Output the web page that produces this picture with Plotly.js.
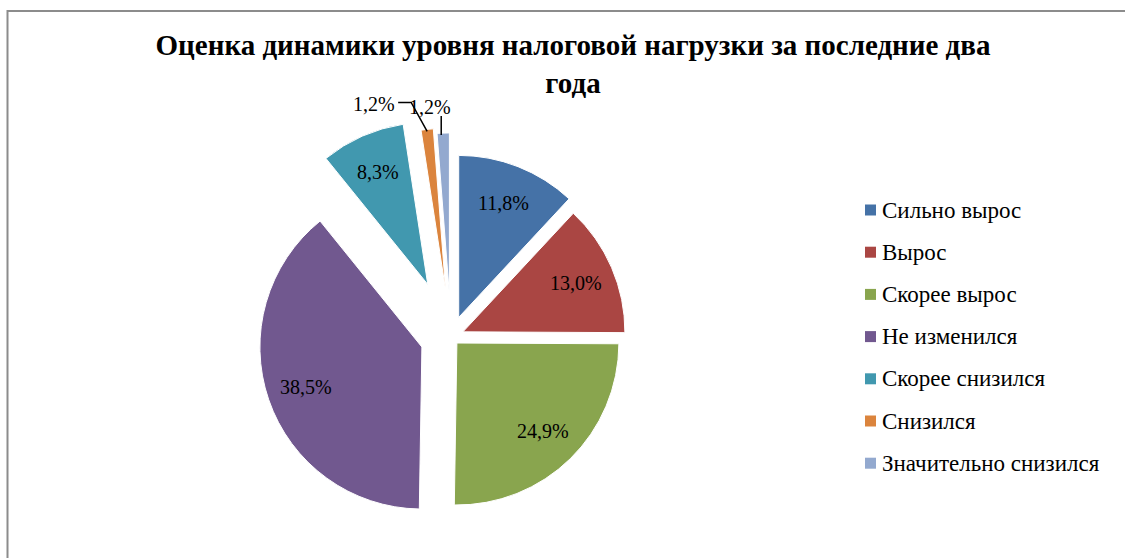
<!DOCTYPE html>
<html>
<head>
<meta charset="utf-8">
<script src="https://cdn.plot.ly/plotly-3.0.1.min.js"></script>
<style>
html,body{margin:0;padding:0;background:#fff;}
#chart{width:1125px;height:558px;}
</style>
</head>
<body>
<div id="chart"></div>
<script>
var categories = ["Сильно вырос", "Вырос", "Скорее вырос", "Не изменился", "Скорее снизился", "Снизился", "Значительно снизился"];
var shares = [11.8, 13.0, 24.9, 38.5, 8.3, 1.2, 1.2];
var colors = ["#4572A7", "#AA4643", "#89A54E", "#71588F", "#4198AF", "#DB843D", "#93A9CF"];
var titleText = "Оценка динамики уровня налоговой нагрузки за последние два<br>года";

var W = 1125, H = 558;
var FAM = "Liberation Serif";

// pie geometry (pixels)
var CX = 451, CY = 337, R = 162;
var pulls = [0.13, 0.08, 0.052, 0.19, 0.355, 0.29, 0.26];
var maxPull = Math.max.apply(null, pulls);
var half = R * (1 + maxPull);

var labelsText = shares.map(function (v) { return v.toFixed(1).replace(".", ",") + "%"; });

function toX(x) { return x / W; }
function toY(y) { return 1 - y / H; }

var trace = {
  type: "pie",
  labels: categories,
  values: shares,
  text: labelsText,
  textinfo: "none",
  hoverinfo: "label+text",
  sort: false,
  direction: "clockwise",
  rotation: 0,
  pull: pulls,
  marker: { colors: colors, line: { color: "#ffffff", width: 1 } },
  domain: { x: [(CX - half) / W, (CX + half) / W], y: [(H - CY - half) / H, (H - CY + half) / H] },
  showlegend: false
};

var shapes = [{
  type: "rect", xref: "paper", yref: "paper",
  x0: toX(7.5), x1: 1.02, y0: -0.05, y1: toY(11),
  line: { color: "#8c8c8c", width: 2 }, fillcolor: "rgba(0,0,0,0)"
}];
var annotations = [];

// data labels, placed along each slice's mid-angle
var total = shares.reduce(function (a, b) { return a + b; }, 0);
var cum = 0;
var lblFont = { family: FAM, size: 20, color: "#000000" };
shares.forEach(function (v, i) {
  var a0 = cum / total * 2 * Math.PI;
  cum += v;
  var a1 = cum / total * 2 * Math.PI;
  var am = (a0 + a1) / 2;
  var dx = Math.sin(am), dy = -Math.cos(am);
  if (v >= 5) {
    var k = pulls[i] + 0.76;
    annotations.push({
      xref: "paper", yref: "paper",
      x: toX(CX + k * R * dx), y: toY(CY + k * R * dy),
      xanchor: "center", yanchor: "middle", showarrow: false,
      text: labelsText[i], font: lblFont
    });
  } else {
    // outside label with leader line
    var tipX = CX + (pulls[i] + 1) * R * dx;
    var tipY = CY + (pulls[i] + 1) * R * dy + 2;
    var small = (i === 5)
      ? { lx: tipX - 53, ly: tipY - 27, path: [[tipX - 29, tipY - 29], [tipX - 16, tipY - 29], [tipX, tipY]] }
      : { lx: tipX - 13, ly: tipY - 28, path: [[tipX - 2, tipY - 19], [tipX - 2, tipY]] };
    annotations.push({
      xref: "paper", yref: "paper", x: toX(small.lx), y: toY(small.ly),
      xanchor: "center", yanchor: "middle", showarrow: false,
      text: labelsText[i], font: lblFont
    });
    var d = small.path.map(function (p, j) { return (j ? "L" : "M") + toX(p[0]) + "," + toY(p[1]); }).join(" ");
    shapes.push({ type: "path", xref: "paper", yref: "paper", path: d, line: { color: "#000000", width: 1.5 } });
  }
});

// legend
var legX = 865, legY0 = 210, legStep = 42.2, sq = 11;
categories.forEach(function (c, i) {
  var yc = legY0 + i * legStep;
  shapes.push({
    type: "rect", xref: "paper", yref: "paper",
    x0: toX(legX), x1: toX(legX + sq), y0: toY(yc + sq / 2), y1: toY(yc - sq / 2),
    line: { width: 0 }, fillcolor: colors[i]
  });
  annotations.push({
    xref: "paper", yref: "paper", x: toX(legX + sq + 4), y: toY(yc),
    xanchor: "left", yanchor: "middle", showarrow: false,
    text: c, font: { family: FAM, size: 23, color: "#000000" }
  });
});

var layout = {
  width: W, height: H,
  margin: { l: 0, r: 0, t: 0, b: 0 },
  paper_bgcolor: "#ffffff",
  font: { family: FAM, color: "#000000" },
  title: {
    text: titleText,
    x: toX(573), xanchor: "center",
    y: toY(55), yanchor: "top",
    font: { family: FAM, size: 29, color: "#000000", weight: "bold" }
  },
  shapes: shapes,
  annotations: annotations,
  showlegend: false
};

Plotly.newPlot("chart", [trace], layout, { displayModeBar: false, staticPlot: true });
</script>
</body>
</html>
